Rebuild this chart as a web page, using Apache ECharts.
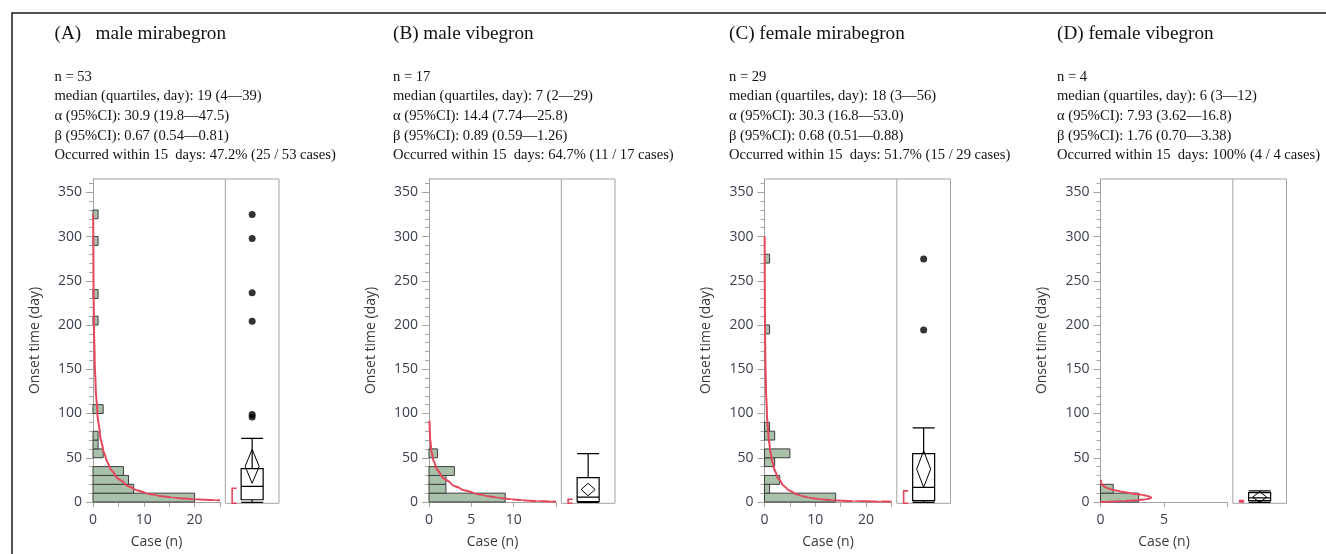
<!DOCTYPE html>
<html><head><meta charset="utf-8">
<script src="https://cdn.jsdelivr.net/npm/echarts@6/dist/echarts.min.js"></script>
<style>html,body{margin:0;padding:0;background:#fff}#c{width:1326px;height:554px}</style>
</head><body><div id="c"></div>
<script>
// ================= DATA =================
const panelTitles = ['(A)   male mirabegron', '(B) male vibegron', '(C) female mirabegron', '(D) female vibegron'];
const statsA = ['n = 53', 'median (quartiles, day): 19 (4\u201439)', '\u03b1 (95%CI): 30.9 (19.8\u201447.5)', '\u03b2 (95%CI): 0.67 (0.54\u20140.81)', 'Occurred within 15  days: 47.2% (25 / 53 cases)'];
const statsB = ['n = 17', 'median (quartiles, day): 7 (2\u201429)', '\u03b1 (95%CI): 14.4 (7.74\u201425.8)', '\u03b2 (95%CI): 0.89 (0.59\u20141.26)', 'Occurred within 15  days: 64.7% (11 / 17 cases)'];
const statsC = ['n = 29', 'median (quartiles, day): 18 (3\u201456)', '\u03b1 (95%CI): 30.3 (16.8\u201453.0)', '\u03b2 (95%CI): 0.68 (0.51\u20140.88)', 'Occurred within 15  days: 51.7% (15 / 29 cases)'];
const statsD = ['n = 4', 'median (quartiles, day): 6 (3\u201412)', '\u03b1 (95%CI): 7.93 (3.62\u201416.8)', '\u03b2 (95%CI): 1.76 (0.70\u20143.38)', 'Occurred within 15  days: 100% (4 / 4 cases)'];

const yTickValues = [0, 50, 100, 150, 200, 250, 300, 350];
const yMax = 365;
const xMaxA = 25, xTicksA = [0, 5, 10, 15, 20, 25], xLabelsA = [0, 10, 20];
const xMaxB = 15, xTicksB = [0, 5, 10, 15], xLabelsB = [0, 5, 10];
const xMaxC = 25, xTicksC = [0, 5, 10, 15, 20, 25], xLabelsC = [0, 10, 20];
const xMaxD = 10, xTicksD = [0, 5, 10], xLabelsD = [0, 5];

const binWidth = 10;
const binLoA = [0, 10, 20, 30, 50, 60, 70, 100, 200, 230, 290, 320];
const binCountA = [20, 8, 7, 6, 2, 1, 1, 2, 1, 1, 1, 1];
const binLoB = [0, 10, 20, 30, 50];
const binCountB = [9, 2, 2, 3, 1];
const binLoC = [0, 10, 20, 40, 50, 70, 80, 190, 270];
const binCountC = [14, 1, 3, 2, 5, 2, 1, 1, 1];
const binLoD = [0, 10];
const binCountD = [3, 1];

// fitted curve: [cases, day]
const curveA = [[25, 1.9], [24.2, 2], [20, 3], [15.6, 5], [12.4, 7.5], [10.4, 10], [7.9, 15], [6.3, 20], [4.35, 30], [3.2, 40], [2.5, 50], [1.95, 60], [1.4, 75], [0.87, 100], [0.52, 130], [0.33, 160], [0.19, 200], [0.1, 250], [0.055, 300], [0.04, 325]];
const curveB = [[15, 0.4], [14.5, 0.5], [12.8, 1], [11, 2], [9.75, 3], [8, 5], [6.45, 7.5], [5.3, 10], [3.7, 15], [2.65, 20], [1.42, 30], [0.78, 40], [0.44, 50], [0.25, 60], [0.11, 75], [0.05, 92]];
const curveC = [[25, 0.38], [22.8, 0.5], [17.6, 1], [13.3, 2], [11.1, 3], [8.65, 5], [6.9, 7.5], [5.8, 10], [4.4, 15], [3.5, 20], [2.4, 30], [1.78, 40], [1.36, 50], [1.07, 60], [0.76, 75], [0.47, 100], [0.28, 130], [0.17, 160], [0.1, 200], [0.05, 250], [0.03, 300]];
const curveD = [[0, 0], [1.8, 1], [2.85, 2], [3.55, 3], [3.9, 4], [4.0, 5], [3.9, 6], [3.6, 7], [3.25, 8], [2.35, 10], [1.53, 12], [0.9, 14], [0.49, 16], [0.24, 18], [0.11, 20], [0.05, 22], [0.02, 25]];

// box: [min whisker, Q1, median, Q3, max whisker]
const boxA = [1, 4, 19, 39, 73];
const boxB = [1, 2, 7, 29, 56];
const boxC = [1, 3, 18, 56, 85];
const boxD = [1, 3, 6, 12, 14];
// mean diamond: [lower CI, mean, upper CI]
const diamondA = [22.5, 41.6, 60.7];
const diamondB = [8.5, 15.5, 22.5];
const diamondC = [18, 38.5, 59];
const diamondD = [1, 7, 13];
// shortest half bracket
const shortHalfA = [0, 17];
const shortHalfB = [0, 4.5];
const shortHalfC = [0, 14];
const shortHalfD = [1.5, 3];
// outliers
const outliersA = [97, 100, 205, 237, 298, 325];
const outliersB = [];
const outliersC = [195, 275];
const outliersD = [];

// ================= LAYOUT / STYLE =================
const TOP = 179, HEIGHT = 324.3, HIST_W = 127, GAP = 5.3, BOX_W = 53.7;
const AXIS_X = [93, 429, 764.5, 1100.5];
const TEXT_X = [54.5, 393, 729, 1057];
const GRAY = '#a3a3a3';
const RED = '#e5465c';
const BAR_FILL = '#a9c1a9';
const BAR_EDGE = '#3d3d3d';
const LABEL_COLOR = '#3a3f4f';
const SANS = '"Open Sans", "Noto Sans", sans-serif';
const SERIF = '"Liberation Serif", "Times New Roman", serif';

const panels = [
  {title: panelTitles[0], stats: statsA, xMax: xMaxA, xTicks: xTicksA, xLabels: xLabelsA, lo: binLoA, cnt: binCountA, curve: curveA, box: boxA, dia: diamondA, sh: shortHalfA, out: outliersA},
  {title: panelTitles[1], stats: statsB, xMax: xMaxB, xTicks: xTicksB, xLabels: xLabelsB, lo: binLoB, cnt: binCountB, curve: curveB, box: boxB, dia: diamondB, sh: shortHalfB, out: outliersB},
  {title: panelTitles[2], stats: statsC, xMax: xMaxC, xTicks: xTicksC, xLabels: xLabelsC, lo: binLoC, cnt: binCountC, curve: curveC, box: boxC, dia: diamondC, sh: shortHalfC, out: outliersC},
  {title: panelTitles[3], stats: statsD, xMax: xMaxD, xTicks: xTicksD, xLabels: xLabelsD, lo: binLoD, cnt: binCountD, curve: curveD, box: boxD, dia: diamondD, sh: shortHalfD, out: outliersD}
];

const option = {animation: false, backgroundColor: '#fff', title: [], grid: [], xAxis: [], yAxis: [], series: [], graphic: []};

option.graphic.push({type: 'rect', shape: {x: 12, y: 13, width: 1400, height: 700}, style: {fill: 'none', stroke: '#1a1a1a', lineWidth: 1.5}, silent: true, z: 100});

panels.forEach((p, i) => {
  const ax = AXIS_X[i];
  const boxLeft = ax + HIST_W + GAP;
  const gh = 2 * i, gb = 2 * i + 1;
  option.title.push({text: p.title, left: TEXT_X[i], top: 24, padding: 0,
    textStyle: {fontFamily: SERIF, fontSize: 19.2, fontWeight: 'normal', color: '#111'}});
  option.title.push({text: p.stats.join('\n'), left: TEXT_X[i], top: 67, padding: 0,
    textStyle: {fontFamily: SERIF, fontSize: 14.6, fontWeight: 'normal', color: '#111', lineHeight: 19.7}});

  option.grid.push({left: ax, top: TOP, width: HIST_W, height: HEIGHT});
  option.grid.push({left: boxLeft, top: TOP, width: BOX_W, height: HEIGHT, show: true, borderColor: GRAY, borderWidth: 1});

  // top frame line of histogram part
  option.graphic.push({type: 'line', shape: {x1: ax, y1: TOP, x2: boxLeft, y2: TOP}, style: {stroke: GRAY, lineWidth: 1}, silent: true});

  option.xAxis.push({gridIndex: gh, type: 'value', min: 0, max: p.xMax,
    name: 'Case (n)', nameLocation: 'middle', nameGap: 33,
    nameTextStyle: {fontFamily: SANS, fontSize: 14, color: '#3a3a3a'},
    axisLine: {show: true, lineStyle: {color: GRAY, width: 1}},
    axisTick: {show: true, length: 5, lineStyle: {color: GRAY}, customValues: p.xTicks},
    axisLabel: {margin: 11, fontFamily: SANS, fontSize: 14, color: LABEL_COLOR, customValues: p.xLabels},
    splitLine: {show: false}});
  option.xAxis.push({gridIndex: gb, type: 'category', data: ['box'], show: false});

  option.yAxis.push({gridIndex: gh, type: 'value', min: 0, max: yMax, interval: 50,
    name: 'Onset time (day)', nameLocation: 'middle', nameGap: 51,
    nameTextStyle: {fontFamily: SANS, fontSize: 14, color: '#3a3a3a'},
    axisLine: {show: true, lineStyle: {color: GRAY, width: 1}},
    axisTick: {show: true, length: 7, lineStyle: {color: GRAY}, customValues: yTickValues},
    minorTick: {show: true, splitNumber: 5, length: 4, lineStyle: {color: GRAY}},
    axisLabel: {margin: 11, fontFamily: SANS, fontSize: 14, color: LABEL_COLOR, customValues: yTickValues},
    splitLine: {show: false}, minorSplitLine: {show: false}});
  option.yAxis.push({gridIndex: gb, type: 'value', min: 0, max: yMax, show: false, splitLine: {show: false}});

  // histogram bars
  option.series.push({type: 'custom', xAxisIndex: gh, yAxisIndex: gh,
    data: p.lo.map((lo, j) => [lo, lo + binWidth, p.cnt[j]]),
    encode: {x: 2, y: [0, 1]},
    renderItem: (params, api) => {
      const a = api.coord([0, api.value(1)]);
      const b = api.coord([api.value(2), api.value(0)]);
      return {type: 'rect', shape: {x: a[0], y: a[1], width: b[0] - a[0], height: b[1] - a[1]},
        style: {fill: BAR_FILL, stroke: BAR_EDGE, lineWidth: 1}};
    }, z: 2});
  // fitted curve
  option.series.push({type: 'line', xAxisIndex: gh, yAxisIndex: gh, data: p.curve,
    showSymbol: false, smooth: 0.3, smoothMonotone: 'y', clip: true,
    lineStyle: {color: RED, width: 2}, z: 3});

  // box plot
  option.series.push({type: 'boxplot', xAxisIndex: gb, yAxisIndex: gb, data: [p.box],
    boxWidth: [22, 22], itemStyle: {color: 'rgba(0,0,0,0)', borderColor: '#000', borderWidth: 1.2}, z: 3});
  // mean diamond
  option.series.push({type: 'custom', xAxisIndex: gb, yAxisIndex: gb, data: [[0].concat(p.dia)],
    encode: {x: 0, y: [1, 2, 3]},
    renderItem: (params, api) => {
      const lo = api.coord([0, api.value(1)]);
      const mid = api.coord([0, api.value(2)]);
      const hi = api.coord([0, api.value(3)]);
      const hw = 7;
      return {type: 'polygon', shape: {points: [[mid[0], hi[1]], [mid[0] + hw, mid[1]], [mid[0], lo[1]], [mid[0] - hw, mid[1]]]},
        style: {fill: 'none', stroke: '#000', lineWidth: 1}};
    }, z: 4});
  // shortest half bracket
  option.series.push({type: 'custom', xAxisIndex: gb, yAxisIndex: gb, data: [[0].concat(p.sh)],
    encode: {x: 0, y: [1, 2]},
    renderItem: (params, api) => {
      const lo = api.coord([0, api.value(1)]);
      const hi = api.coord([0, api.value(2)]);
      const x = lo[0] - 20;
      return {type: 'polyline', shape: {points: [[x + 4.5, hi[1]], [x, hi[1]], [x, lo[1]], [x + 4.5, lo[1]]]},
        style: {fill: 'none', stroke: RED, lineWidth: 1.6}};
    }, z: 4});
  // outliers
  option.series.push({type: 'scatter', xAxisIndex: gb, yAxisIndex: gb, data: p.out.map(v => [0, v]),
    symbolSize: 7, itemStyle: {color: '#000'}, z: 5});
});

const chart = echarts.init(document.getElementById('c'), null, {renderer: 'canvas'});
chart.setOption(option);
</script>
</body></html>
